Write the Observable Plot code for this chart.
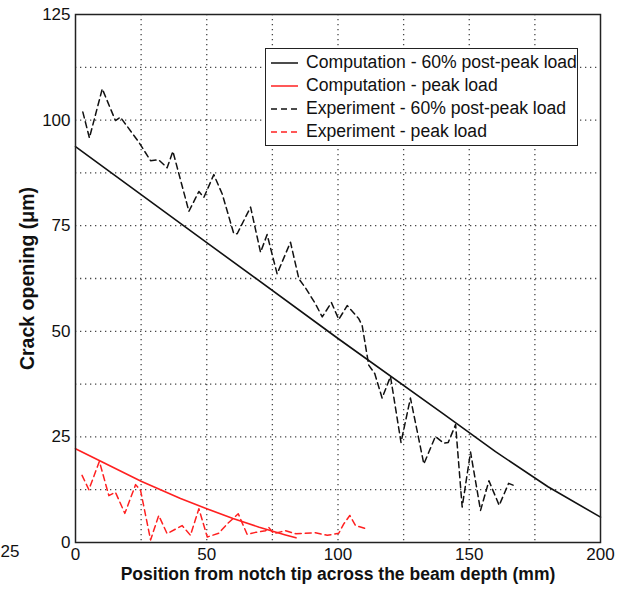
<!DOCTYPE html>
<html>
<head>
<meta charset="utf-8">
<script src="https://cdn.jsdelivr.net/npm/d3@7"></script>
<script src="https://cdn.jsdelivr.net/npm/@observablehq/plot@0.6"></script>
<style>
  body { margin: 0; background: #fff; }
  #wrap { position: relative; width: 627px; height: 589px; font-family: "Liberation Sans", Arial, Helvetica, sans-serif; }
  #legend { position: absolute; left: 265px; top: 48px; width: 311px; background: #fff; border: 1.3px solid #222; padding: 2px 0; box-sizing: content-box; }
  .row { height: 23px; display: flex; align-items: center; font-size: 17.6px; color: #111; white-space: nowrap; }
  .row svg { margin-left: 5px; margin-right: 8px; flex: none; }
</style>
</head>
<body>
<div id="wrap"></div>
<script>
// ---- data ----
const compPostX = [0, 50, 100, 140, 160, 180, 200];
const compPostY = [93.7, 71, 48.3, 30.5, 21.5, 13.2, 6];

const compPeakX = [0, 10, 25, 40, 50, 60, 70, 80, 84];
const compPeakY = [22.2, 19.1, 14.5, 10.4, 8.0, 5.7, 3.6, 1.8, 1.1];

const expPostX = [2.8, 5.3, 10.2, 15.2, 17.1, 24.1, 28.6, 31.7, 34.9, 37.1, 43.2, 47, 48.9, 52.7, 55.9, 60.3, 61.6, 66.7, 70.5, 73, 76.8, 81.9, 85.1, 87.6, 91.4, 94, 97.5, 100.3, 103.5, 107.9, 109.2, 111.7, 114, 116.8, 120, 124, 127.6, 132.7, 137.1, 140.3, 142, 144.8, 147.3, 150.5, 154.3, 157.5, 161.4, 165, 167];
const expPostY = [101.9, 95.8, 107.4, 99.9, 100.7, 94.8, 90.4, 90.6, 88.7, 92.6, 78.4, 83.1, 81.7, 87.1, 82.5, 73.1, 73.1, 79.4, 68.7, 72.9, 63.6, 71.1, 62.4, 60.3, 56.5, 53.4, 56.8, 52.8, 56.1, 53, 51.4, 42, 40, 34.2, 39.3, 23.7, 34.2, 18.6, 25.1, 23.5, 23.7, 27.9, 8.4, 21.4, 7.6, 14.6, 8.8, 14, 13.5];

const expPeakX = [2.5, 5.1, 9.1, 12.7, 15.2, 18.8, 22.9, 24.8, 28.6, 31.7, 34.9, 40.6, 43.8, 47, 50.2, 54.6, 57.8, 62, 65.4, 68.6, 72.4, 73.6, 75.5, 80, 83.8, 91.4, 95.9, 100.3, 102.2, 104.5, 106.7, 111.1];
const expPeakY = [15.9, 12.5, 19.2, 11.1, 11.9, 6.9, 13.7, 12.3, 0.6, 6.4, 2.1, 4, 1.7, 8, 1.3, 2.2, 4.4, 6.8, 1.9, 2.4, 2.8, 3.6, 2.1, 2.8, 2.1, 2.3, 1.7, 2.2, 4.4, 6.4, 4, 3.2];

const xTicks = [0, 50, 100, 150, 200];
const yTicks = [0, 25, 50, 75, 100, 125];
const xGrid = [25, 50, 75, 100, 125, 150, 175];
const yGrid = [12.5, 25, 37.5, 50, 62.5, 75, 87.5, 100, 112.5];

const xTitle = "Position from notch tip across the beam depth (mm)";
const yTitle = "Crack opening (\u03bcm)";
const strayLabel = ["25"];

const seriesNames = ["Computation - 60% post-peak load", "Computation - peak load", "Experiment - 60% post-peak load", "Experiment - peak load"];
const seriesColors = ["#111", "#ff2020", "#111", "#ff2020"];
const seriesDash = [null, null, "6,4", "6,4"];

const zip = (xs, ys) => xs.map((x, i) => ({x, y: ys[i]}));

const RED = "#ff2020";
const plot = Plot.plot({
  width: 627,
  height: 589,
  marginLeft: 75,
  marginRight: 27,
  marginTop: 14,
  marginBottom: 47,
  style: { fontFamily: '"Liberation Sans", Arial, Helvetica, sans-serif', fontSize: "17px", color: "#111", background: "#fff", overflow: "visible" },
  x: { domain: [0, 200] },
  y: { domain: [0, 125] },
  marks: [
    Plot.gridX(xGrid, { stroke: "#333", strokeOpacity: 0.9, strokeWidth: 1.3, strokeDasharray: "1.3,3.7" }),
    Plot.gridY(yGrid, { stroke: "#333", strokeOpacity: 0.9, strokeWidth: 1.3, strokeDasharray: "1.3,3.7" }),
    Plot.axisX({ ticks: xTicks, tickSize: 0, tickPadding: 5, label: null, fontSize: 17 }),
    Plot.axisY({ ticks: yTicks, tickSize: 0, tickPadding: 5, label: null, fontSize: 17 }),
    Plot.line(zip(compPostX, compPostY), { x: "x", y: "y", stroke: "#111", strokeWidth: 1.6 }),
    Plot.line(zip(compPeakX, compPeakY), { x: "x", y: "y", stroke: RED, strokeWidth: 1.6 }),
    Plot.line(zip(expPostX, expPostY), { x: "x", y: "y", stroke: "#111", strokeWidth: 1.5, strokeDasharray: "6,4" }),
    Plot.line(zip(expPeakX, expPeakY), { x: "x", y: "y", stroke: RED, strokeWidth: 1.5, strokeDasharray: "6,4" }),
    Plot.frame({ stroke: "#222", strokeWidth: 1.5 }),
    Plot.text([xTitle], { text: d => d, frameAnchor: "bottom", dy: 37, fontWeight: "bold", fontSize: 17.5, fill: "#111" }),
    Plot.text([yTitle], { text: d => d, frameAnchor: "left", textAnchor: "middle", dx: -48, rotate: -90, fontWeight: "bold", fontSize: 19.5, fill: "#111" }),
    Plot.text(strayLabel, { text: d => d, frameAnchor: "bottom-left", dx: -75, dy: 14, textAnchor: "start", fontSize: 17, fill: "#111" })
  ]
});

const wrap = document.getElementById("wrap");
wrap.appendChild(plot);

const legend = document.createElement("div");
legend.id = "legend";
seriesNames.forEach((name, i) => {
  const row = document.createElement("div");
  row.className = "row";
  const dash = seriesDash[i] ? `stroke-dasharray="${seriesDash[i]}"` : "";
  row.innerHTML = `<svg width="27" height="4"><line x1="0" y1="2" x2="27" y2="2" stroke="${seriesColors[i]}" stroke-width="1.5" ${dash}/></svg><span>${name}</span>`;
  legend.appendChild(row);
});
wrap.appendChild(legend);
</script>
</body>
</html>
